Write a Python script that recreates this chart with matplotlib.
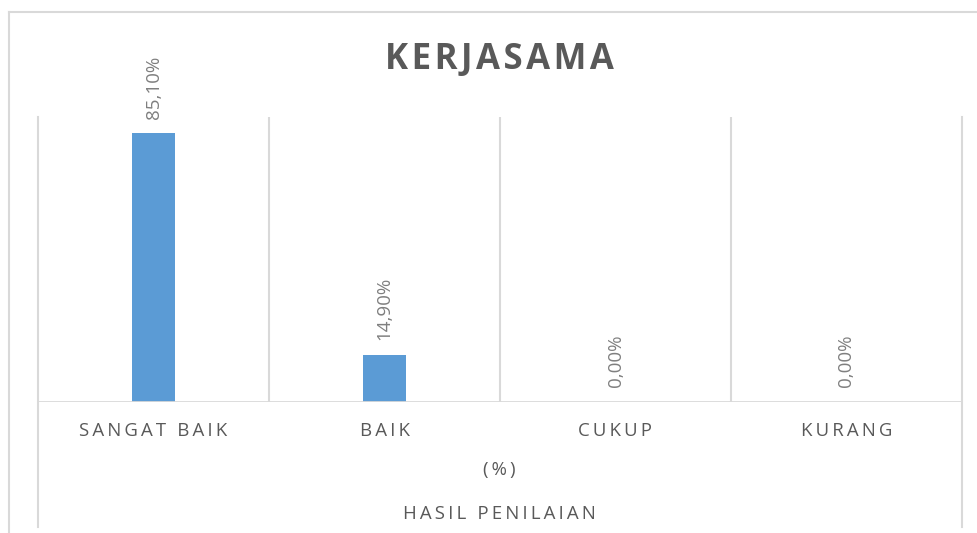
import matplotlib.pyplot as plt
from matplotlib.lines import Line2D

# data
kategori = ["SANGAT BAIK", "BAIK", "CUKUP", "KURANG"]
persen = [85.10, 14.90, 0.00, 0.00]
label_persen = ["85,10%", "14,90%", "0,00%", "0,00%"]

judul = "KERJASAMA"
sub_sumbu = "(%)"
judul_sumbu = "HASIL PENILAIAN"

warna_bar = "#5b9bd5"
warna_garis = "#d9d9d9"
warna_teks = "#595959"
warna_label = "#7f7f7f"

plt.rcParams["font.family"] = ["Open Sans", "DejaVu Sans"]

W, H = 977, 533
fig = plt.figure(figsize=(W / 100, H / 100), dpi=100)

def fx(px):
    return px / W

def fy(py):
    return 1 - py / H

def renggang(teks, spasi="\u2009"):
    # jarak antar huruf ala Excel
    return spasi.join(teks)

# area plot
kiri, kanan, atas, dasar = 38, 962, 117, 402
ax = fig.add_axes([fx(kiri), fy(dasar), fx(kanan - kiri), (dasar - atas) / H])
ax.set_xlim(-0.5, len(kategori) - 0.5)
ax.set_ylim(0, 90.2)
for s in ax.spines.values():
    s.set_visible(False)
ax.set_xticks([])
ax.set_yticks([])

x = range(len(kategori))
ax.bar(x, persen, width=0.186, color=warna_bar, zorder=3)

for xi, v, lab in zip(x, persen, label_persen):
    ax.annotate(lab, (xi, v), xytext=(0, 10.5), textcoords="offset points",
                rotation=90, ha="center", va="bottom", fontsize=13.5,
                color=warna_label)

# garis pemisah kategori di dalam area plot
for b in [0.5, 1.5, 2.5]:
    ax.axvline(b, color=warna_garis, lw=1.5, zorder=1)
ax.axhline(0, color=warna_garis, lw=2, zorder=4)

# garis tepi kiri/kanan sumbu bertingkat
for px in [kiri, kanan]:
    fig.add_artist(Line2D([fx(px), fx(px)], [fy(atas), fy(527)],
                          color=warna_garis, lw=1.5))

# bingkai chart
fig.add_artist(Line2D([fx(9), fx(9)], [fy(12), 0], color=warna_garis, lw=1.5))
fig.add_artist(Line2D([fx(9), 1], [fy(12), fy(12)], color=warna_garis, lw=1.5))

# label kategori
for xi, k in zip(x, kategori):
    xc = kiri + (xi + 0.5) * (kanan - kiri) / len(kategori)
    fig.text(fx(xc), fy(431), renggang(k), ha="center", va="center",
             fontsize=13.4, color=warna_teks)

fig.text(fx(499), fy(470), renggang(sub_sumbu), ha="center", va="center",
         fontsize=13.4, color=warna_teks)
fig.text(fx(499), fy(514), renggang(judul_sumbu), ha="center", va="center",
         fontsize=13.4, color=warna_teks)

fig.text(fx(499), fy(60), renggang(judul, "\u200a"), ha="center", va="center",
         fontsize=25, fontweight="bold", color=warna_teks)

fig.savefig("out.png", dpi=100, facecolor="white")
